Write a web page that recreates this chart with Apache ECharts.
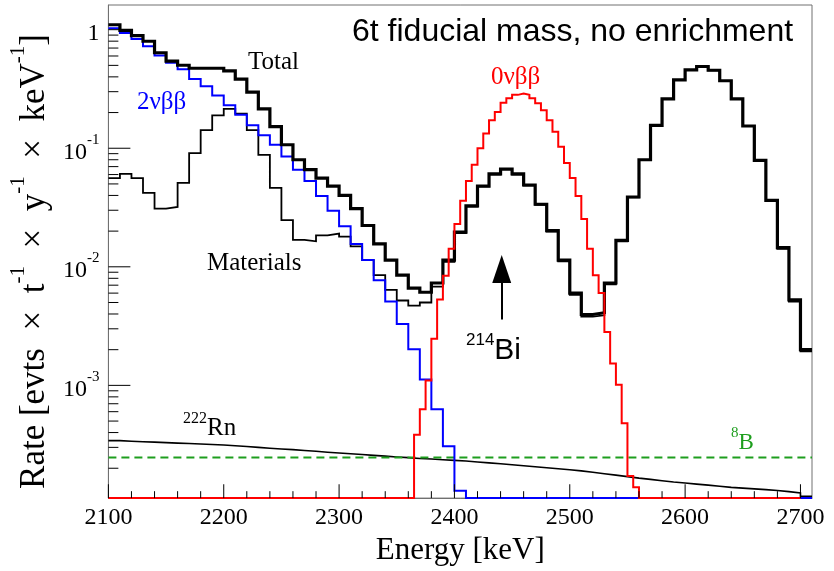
<!DOCTYPE html>
<html><head><meta charset="utf-8">
<script src="https://cdn.jsdelivr.net/npm/echarts@6/dist/echarts.min.js"></script>
<style>html,body{margin:0;padding:0;background:#fff}#c{width:834px;height:571px}</style>
</head><body><div id="c"></div>
<script>
// ---------------- data ----------------
const binStart = 2100;      // keV, first bin edge
const binWidth = 10;        // keV, histogram bin width
const fineBinWidth = 5;     // keV, 0vbb histogram bin width
const xMin = 2100, xMax = 2710;
const yMin = 1.12e-4, yMax = 1.615;
const xTickLabels = [2100, 2200, 2300, 2400, 2500, 2600, 2700];
const xMinorTicks = [2120,2140,2160,2180,2220,2240,2260,2280,2320,2340,2360,2380,2420,2440,2460,2480,2520,2540,2560,2580,2620,2640,2660,2680];
const yTickValues = [1e-3, 1e-2, 1e-1, 1];
const yMinorTicks = [2e-4,3e-4,4e-4,5e-4,6e-4,7e-4,8e-4,9e-4,2e-3,3e-3,4e-3,5e-3,6e-3,7e-3,8e-3,9e-3,2e-2,3e-2,4e-2,5e-2,6e-2,7e-2,8e-2,9e-2,0.2,0.3,0.4,0.5,0.6,0.7,0.8,0.9];

// Total (10 keV bins, 2100-2710)
const total = [1.10,0.987,0.891,0.799,0.639,0.544,0.501,0.473,0.473,0.473,
  0.449,0.383,0.297,0.215,0.152,0.107,0.080,0.066,0.056,0.048,
  0.040,0.031,0.0223,0.0156,0.0114,0.0085,0.0066,0.0061,0.0073,0.0114,
  0.0196,0.0327,0.048,0.0607,0.0668,0.0607,0.049,0.0337,0.0202,0.0114,
  0.0060,0.00396,0.0041,0.0073,0.0167,0.0388,0.080,0.156,0.261,0.378,
  0.458,0.489,0.455,0.371,0.261,0.154,0.079,0.0364,0.0145,0.00527,
  0.0020];
// 2vbb (10 keV bins)
const twoNuBB = [1.03,0.938,0.836,0.726,0.607,0.527,0.464,0.383,0.333,0.278,
  0.230,0.192,0.156,0.129,0.107,0.085,0.066,0.053,0.0396,0.0297,
  0.022,0.0156,0.0114,0.0077,0.0051,0.0033,0.00202,0.00112,0.00063,0.000306,
  0.000129,0,0,0,0,0,0,0,0,0,
  0,0,0,0,0,0,0,0,0,0,
  0,0,0,0,0,0,0,0,0,0,
  0];
// Materials (10 keV bins)
const materials = [0.056,0.0607,0.056,0.042,0.031,0.032,0.051,0.0909,0.142,0.189,
  0.215,0.196,0.142,0.088,0.0464,0.0248,0.0169,0.0164,0.0184,0.0191,
  0.018,0.0149,0.0114,0.0085,0.0064,0.0052,0.0047,0.0050,0.0068,0.0110,
  0.0192,0.0322,0.0476,0.060,0.066,0.060,0.0485,0.0333,0.0198,0.0111,
  0.0058,0.0038,0.0039,0.0071,0.0164,0.0385,0.0797,0.1557,0.2607,0.3777,
  0.4577,0.4887,0.4547,0.3707,0.2607,0.1537,0.0787,0.0361,0.0142,0.0051,
  0.00194];
// 222Rn (10 keV bins)
const rn222 = [3.42e-4,3.38e-4,3.35e-4,3.32e-4,3.29e-4,3.26e-4,3.23e-4,3.20e-4,3.17e-4,3.14e-4,
  3.10e-4,3.05e-4,3.00e-4,2.95e-4,2.91e-4,2.87e-4,2.82e-4,2.78e-4,2.73e-4,2.69e-4,
  2.65e-4,2.61e-4,2.57e-4,2.53e-4,2.49e-4,2.46e-4,2.42e-4,2.39e-4,2.36e-4,2.33e-4,
  2.30e-4,2.26e-4,2.22e-4,2.18e-4,2.14e-4,2.10e-4,2.06e-4,2.02e-4,1.98e-4,1.94e-4,
  1.90e-4,1.85e-4,1.80e-4,1.75e-4,1.70e-4,1.65e-4,1.61e-4,1.57e-4,1.53e-4,1.50e-4,
  1.47e-4,1.44e-4,1.41e-4,1.38e-4,1.36e-4,1.34e-4,1.32e-4,1.30e-4,1.27e-4,1.24e-4,
  1.16e-4];
// 8B (flat)
const b8Level = 2.46e-4;
// 0vbb (5 keV bins, 2100-2700)
const zeroNuBB = [0,0,0,0,0,0,0,0,0,0, 0,0,0,0,0,0,0,0,0,0,
  0,0,0,0,0,0,0,0,0,0, 0,0,0,0,0,0,0,0,0,0,
  0,0,0,0,0,0,0,0,0,0, 0,0,0,
  3.83e-4,6.3e-4,1.1e-3,2.47e-3,5.3e-3,8.4e-3,0.0142,0.023,0.036,0.053,
  0.0726,0.100,0.133,0.172,0.202,0.242,0.264,0.282,0.289,0.282,
  0.264,0.240,0.209,0.172,0.138,0.103,0.075,0.056,0.0396,0.0253,
  0.0142,0.0085,0.0060,0.00282,0.00153,0.00101,0.00048,0.000172,0.000138,
  0,0,0,0,0,0,0,0,0,0, 0,0,0,0,0,0,0,0,0,0, 0,0,0,0,0,0,0,0];
// 214Bi arrow (keV, rate)
const biArrowX = 2441;
const biArrowFrom = 0.0036, biArrowTo = 0.0096;

// ---------------- layout / style ----------------
const W = 834, H = 571;
const gridLeft = 108, gridRight = 22, gridTop = 5, gridBottom = 67;
const serif = "'Liberation Serif', 'Times New Roman', serif";
const sans = "'Liberation Sans', Arial, sans-serif";

function hist(values, start, width) {
  const pts = [];
  for (let i = 0; i < values.length; i++) {
    const v = values[i] > yMin ? values[i] : yMin; // empty bins sit on the frame
    pts.push([start + i * width, v]);
    pts.push([start + (i + 1) * width, v]);
  }
  return pts;
}
function line(name, data, color, width, extra) {
  return Object.assign({
    name, type: 'line', data, symbol: 'none', showSymbol: false, clip: false,
    animation: false, z: 3,
    lineStyle: { color, width, join: 'miter', cap: 'butt' }
  }, extra || {});
}

// inside ticks as short line series; tick lengths (px) expressed along the axes' own scales
const pxPerKeV = (W - gridLeft - gridRight) / (xMax - xMin);
const pxPerDecade = (H - gridTop - gridBottom) / Math.log10(yMax / yMin);
const tickSeries = [];
function yTick(v, len) { tickSeries.push(line('tick', [[xMin, v], [xMin + len / pxPerKeV, v]], '#000', 1, { z: 5 })); }
function xTick(v, len) { tickSeries.push(line('tick', [[v, yMin], [v, yMin * Math.pow(10, len / pxPerDecade)]], '#000', 1, { z: 5 })); }
yTickValues.forEach(v => yTick(v, 22));
yMinorTicks.forEach(v => yTick(v, 10));
xTickLabels.forEach(v => xTick(v, 14));
xMinorTicks.forEach(v => xTick(v, 7));

const supStyle = { fontFamily: serif, fontSize: 15, lineHeight: 15, verticalAlign: 'top', color: '#000' };
const baseStyle = { fontFamily: serif, fontSize: 24, lineHeight: 32, verticalAlign: 'bottom', color: '#000' };

const chart = echarts.init(document.getElementById('c'));
chart.setOption({
  animation: false,
  grid: { left: gridLeft, right: gridRight, top: gridTop, bottom: gridBottom, show: true, borderColor: '#707070', borderWidth: 1 },
  xAxis: {
    type: 'value', min: xMin, max: xMax,
    axisLine: { show: true, lineStyle: { color: '#707070', width: 1 } },
    axisTick: { show: false },
    axisLabel: { show: true, customValues: xTickLabels, margin: 8, fontFamily: serif, fontSize: 24, color: '#000',
      formatter: function (v) { return String(v); } },
    splitLine: { show: false },
    name: 'Energy [keV]', nameLocation: 'middle', nameGap: 32,
    nameTextStyle: { fontFamily: serif, fontSize: 31, color: '#000' }
  },
  yAxis: {
    type: 'log', logBase: 10, min: yMin, max: yMax,
    axisLine: { show: true, lineStyle: { color: '#707070', width: 1 } },
    axisTick: { show: false },
    axisLabel: {
      show: true, customValues: yTickValues, margin: 9, color: '#000',
      formatter: function (v) {
        const e = Math.round(Math.log10(v));
        if (e === 0) return '{b|1}';
        return '{b|10}{s|' + e + '}';
      },
      rich: { b: baseStyle, s: supStyle }
    },
    splitLine: { show: false },
    name: '{n|Rate [evts  ×  t}{s|-1}{n|  ×  y}{s|-1}{n|  ×  keV}{s|-1}{n|]}',
    nameLocation: 'middle', nameRotate: 90, nameGap: 49,
    nameTextStyle: {
      padding: [0, 20, 0, 0],
      rich: {
        n: { fontFamily: serif, fontSize: 35, lineHeight: 44, verticalAlign: 'bottom', color: '#000' },
        s: { fontFamily: serif, fontSize: 21, lineHeight: 21, verticalAlign: 'top', color: '#000' }
      }
    }
  },
  series: [
    line('222Rn', hist(rn222, binStart, binWidth), '#000', 1.6),
    line('8B', [[xMin, b8Level], [xMax, b8Level]], '#1e9e1e', 2, { lineStyle: { color: '#1e9e1e', width: 2, type: [8, 5] } }),
    line('Materials', hist(materials, binStart, binWidth), '#000', 1.8),
    line('2vbb', hist(twoNuBB, binStart, binWidth), '#0000ff', 2),
    line('Total', hist(total, binStart, binWidth), '#000', 3.2, {
      markLine: {
        animation: false, symbol: ['none', 'triangle'], symbolSize: [19, 28],
        label: { show: false },
        lineStyle: { color: '#000', width: 2, type: 'solid' },
        data: [[{ coord: [biArrowX, biArrowFrom] }, { coord: [biArrowX, biArrowTo] }]]
      }
    }),
    line('0vbb', hist(zeroNuBB, binStart, fineBinWidth), '#ff0000', 2)
  ].concat(tickSeries)
});
chart.setOption({ graphic: { elements: [
  { type: 'text', style: { text: '6t fiducial mass, no enrichment', x: 352, y: 32, font: "32px " + sans, fill: '#000', textVerticalAlign: 'middle' } },
  { type: 'text', style: { text: 'Total', x: 248, y: 62, font: "25px " + serif, fill: '#000', textVerticalAlign: 'middle' } },
  { type: 'text', style: { text: '2νββ', x: 137, y: 102, font: "25px " + serif, fill: '#0000ff', textVerticalAlign: 'middle' } },
  { type: 'text', style: { text: '0νββ', x: 491, y: 77, font: "25px " + serif, fill: '#ff0000', textVerticalAlign: 'middle' } },
  { type: 'text', style: { text: 'Materials', x: 207, y: 263, font: "25px " + serif, fill: '#000', textVerticalAlign: 'middle' } },
  { type: 'text', style: { text: '{s|222}{b|Rn}', x: 183, y: 426, textVerticalAlign: 'middle',
      rich: { s: { fontFamily: serif, fontSize: 16, lineHeight: 16, verticalAlign: 'top', fill: '#000' }, b: { fontFamily: serif, fontSize: 25, lineHeight: 30, verticalAlign: 'bottom', fill: '#000' } } } },
  { type: 'text', style: { text: '{s|8}{b|B}', x: 731, y: 440, textVerticalAlign: 'middle',
      rich: { s: { fontFamily: serif, fontSize: 15, lineHeight: 15, verticalAlign: 'top', fill: '#1e9e1e' }, b: { fontFamily: serif, fontSize: 23, lineHeight: 28, verticalAlign: 'bottom', fill: '#1e9e1e' } } } },
  { type: 'text', style: { text: '{s|214}{b|Bi}', x: 466, y: 349, textVerticalAlign: 'middle',
      rich: { s: { fontFamily: sans, fontSize: 17, lineHeight: 17, verticalAlign: 'top', fill: '#000' }, b: { fontFamily: sans, fontSize: 30, lineHeight: 34, verticalAlign: 'bottom', fill: '#000' } } } }
] } });
</script>
</body></html>
